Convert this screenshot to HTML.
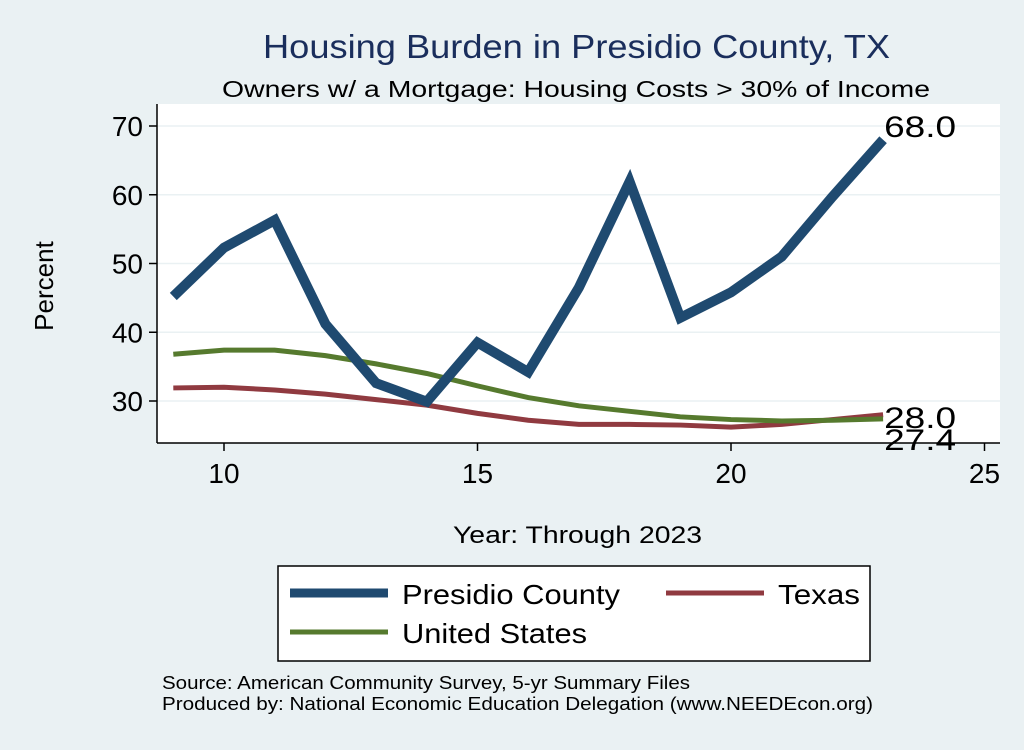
<!DOCTYPE html>
<html><head><meta charset="utf-8"><style>
body{margin:0;width:1024px;height:745px;background:#eaf1f3;font-family:"Liberation Sans",sans-serif;overflow:hidden}
</style></head><body>
<svg width="1024" height="745" xmlns="http://www.w3.org/2000/svg" id="svg">
<rect x="0" y="0" width="1024" height="745" fill="#eaf1f3"/>
<text x="263" y="58" font-size="33" fill="#1a2e5c" textLength="627" lengthAdjust="spacingAndGlyphs">Housing Burden in Presidio County, TX</text>
<text x="222" y="97" font-size="23" fill="#000" textLength="708" lengthAdjust="spacingAndGlyphs">Owners w/ a Mortgage: Housing Costs &gt; 30% of Income</text>
<rect x="157" y="104" width="843" height="339" fill="#fff"/>
<g id="grid"></g><g id="axes"></g><g id="series"></g>
<text x="53" y="286" font-size="26" text-anchor="middle" transform="rotate(-90 53 286)">Percent</text>
<text x="453" y="543" font-size="24" textLength="249" lengthAdjust="spacingAndGlyphs">Year: Through 2023</text>
<g>
<rect x="278" y="566" width="592" height="95" fill="#fff" stroke="#000" stroke-width="1.5"/>
<line x1="290" y1="593" x2="388" y2="593" stroke="#1f4a70" stroke-width="9"/>
<text x="402" y="604" font-size="28" textLength="218" lengthAdjust="spacingAndGlyphs">Presidio County</text>
<line x1="666" y1="593" x2="764" y2="593" stroke="#903a40" stroke-width="5"/>
<text x="778" y="604" font-size="28" textLength="82" lengthAdjust="spacingAndGlyphs">Texas</text>
<line x1="290" y1="632" x2="388" y2="632" stroke="#567a2e" stroke-width="5"/>
<text x="402" y="643" font-size="28" textLength="185" lengthAdjust="spacingAndGlyphs">United States</text>
</g>
<text x="162" y="689" font-size="18" textLength="528" lengthAdjust="spacingAndGlyphs">Source: American Community Survey, 5-yr Summary Files</text>
<text x="162" y="710" font-size="18" textLength="711" lengthAdjust="spacingAndGlyphs">Produced by: National Economic Education Delegation (www.NEEDEcon.org)</text>
</svg>
<script>
const years=[9,10,11,12,13,14,15,16,17,18,19,20,21,22,23];
const presidio=[45.2,52.3,56.3,41.2,32.6,29.9,38.5,34.2,46.5,61.9,42.1,45.8,51.0,59.7,68.0];
const texas=[31.9,32.0,31.6,31.0,30.2,29.4,28.2,27.2,26.6,26.6,26.5,26.2,26.6,27.3,28.0];
const us=[36.8,37.4,37.4,36.6,35.4,34.0,32.2,30.5,29.3,28.5,27.7,27.3,27.1,27.2,27.4];
const yTicks=[30,40,50,60,70];
const xTicks=[10,15,20,25];
const NS="http://www.w3.org/2000/svg";
function X(v){return 224+(v-10)*50.7;}
function Y(v){return 401-(v-30)*6.875;}
function mk(p,t,a){const e=document.createElementNS(NS,t);for(const k in a)e.setAttribute(k,a[k]);p.appendChild(e);return e;}
const grid=document.getElementById('grid'),axes=document.getElementById('axes'),ser=document.getElementById('series');
mk(axes,'line',{x1:157,y1:104,x2:157,y2:443,stroke:'#000','stroke-width':1.5});
mk(axes,'line',{x1:157,y1:443,x2:1000,y2:443,stroke:'#000','stroke-width':1.5});
yTicks.forEach(t=>{
  const g=mk(grid,'line',{x1:157,y1:Y(t),x2:1000,y2:Y(t),stroke:'#eaf1f3','stroke-width':1.5});
  
  
  mk(axes,'line',{x1:149,y1:Y(t),x2:157,y2:Y(t),stroke:'#000','stroke-width':1.5});
  const l=mk(axes,'text',{x:143,y:Y(t)+10,'font-size':28,'text-anchor':'end'});l.textContent=t;
  
  
});
xTicks.forEach(t=>{
  mk(axes,'line',{x1:X(t),y1:443,x2:X(t),y2:451,stroke:'#000','stroke-width':1.5});
  const l=mk(axes,'text',{x:X(t),y:483,'font-size':28,'text-anchor':'middle'});l.textContent=t;
  
  
});
function line(d,c,w,name){
  const p=mk(ser,'polyline',{points:d.map((v,i)=>X(years[i])+','+Y(v)).join(' '),fill:'none',stroke:c,'stroke-width':w,'stroke-linejoin':'miter'});
  
  
}
line(texas,'#903a40',5,'texas-line');
line(us,'#567a2e',5,'us-line');
line(presidio,'#1f4a70',10,'presidio-line');
function lab(d,dy,name){
  const v=d[d.length-1];
  const t=mk(ser,'text',{x:X(years[years.length-1])+1,y:Y(v)+dy,'font-size':30,textLength:72,lengthAdjust:'spacingAndGlyphs'});t.textContent=v.toFixed(1);
  
  
}
lab(presidio,-3,'presidio-end-label');
lab(texas,13,'texas-end-label');
lab(us,31,'us-end-label');
</script>
</body></html>
